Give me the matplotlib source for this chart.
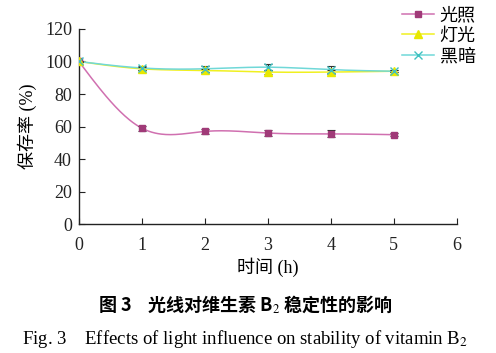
#!/usr/bin/env python3

import numpy as np
import matplotlib
matplotlib.use('Agg')
import matplotlib.pyplot as plt

hours = [0, 1, 2, 3, 4, 5]
light = [100, 59, 57, 56, 55.5, 55]
light_err = [0.5, 1.5, 1.8, 2, 2.2, 0.8]
lamp = [100, 95.5, 94.5, 93.5, 93.5, 94]
lamp_err = [0.5, 1, 1, 1, 1, 0.5]
dark = [100, 96, 95.5, 96.5, 95, 94]
dark_err = [0.5, 1.5, 1.8, 2, 2.2, 0.5]
names = ['光照', '灯光', '黑暗']

FONT = ['Liberation Serif', 'Noto Sans CJK SC']


def smooth(x, y, n=200):
    # natural cubic spline, only for drawing the curve between points
    x = np.asarray(x, float)
    y = np.asarray(y, float)
    k = len(x)
    h = np.diff(x)
    A = np.zeros((k, k))
    b = np.zeros(k)
    A[0, 0] = A[-1, -1] = 1
    for i in range(1, k - 1):
        A[i, i - 1] = h[i - 1]
        A[i, i] = 2 * (h[i - 1] + h[i])
        A[i, i + 1] = h[i]
        b[i] = 6 * ((y[i + 1] - y[i]) / h[i] - (y[i] - y[i - 1]) / h[i - 1])
    m = np.linalg.solve(A, b)
    xs = np.linspace(x[0], x[-1], n)
    idx = np.clip(np.searchsorted(x, xs) - 1, 0, k - 2)
    t = xs - x[idx]
    hi = h[idx]
    a = (m[idx + 1] - m[idx]) / (6 * hi)
    bb = m[idx] / 2
    c = (y[idx + 1] - y[idx]) / hi - hi * (2 * m[idx] + m[idx + 1]) / 6
    return xs, y[idx] + c * t + bb * t ** 2 + a * t ** 3


plt.rcParams['font.family'] = FONT
plt.rcParams['mathtext.fontset'] = 'stix'

fig = plt.figure(figsize=(4.96, 3.53), dpi=100)
ax = fig.add_axes([0.159, 0.365, 0.762, 0.553])

series = [
    (light, light_err, '#d070b0', '#a03a78', 's', 5),
    (lamp, lamp_err, '#f0f020', '#e8e800', '^', 6),
    (dark, dark_err, '#70d8d8', '#40c0c0', 'x', 6),
]
for (vals, err, lc, mc, mk, ms), name in zip(series, names):
    xs, ys = smooth(hours, vals)
    ax.plot(xs, ys, color=lc, lw=1.1, zorder=2)
    ax.errorbar(hours, vals, yerr=err, fmt='none', ecolor='#333333',
                elinewidth=0.8, capsize=3, capthick=0.8, zorder=3)
    ax.plot(hours, vals, linestyle='none', marker=mk, markersize=ms,
            color=mc, markeredgecolor=mc, zorder=4)
    # legend proxy
    ax.plot([], [], color=lc, lw=1.1, marker=mk, markersize=ms,
            markerfacecolor=mc, markeredgecolor=mc, label=name)

ax.set_xlim(0, 6)
ax.set_ylim(0, 120)
ax.set_xticks(range(0, 7))
ax.set_yticks(range(0, 121, 20))
ax.spines['top'].set_visible(False)
ax.spines['right'].set_visible(False)
for s in ('left', 'bottom'):
    ax.spines[s].set_linewidth(1.0)
    ax.spines[s].set_color('#222222')
ax.tick_params(direction='in', length=4, width=0.8, labelsize=13,
               colors='#222222')
ax.tick_params(axis='x', pad=9)
ax.tick_params(axis='y', pad=5)
ax.set_xlabel('时间 (h)', fontsize=13, labelpad=3)
ax.set_ylabel('保存率 (%)', fontsize=13, labelpad=6)

ax.legend(loc='upper left', bbox_to_anchor=(0.835, 1.15), frameon=False,
          fontsize=13, handlelength=1.8, handletextpad=0.3,
          labelspacing=0.2, borderaxespad=0)

fig.text(0.495, 0.138, '图 3    光线对维生素 B$_2$ 稳定性的影响',
         ha='center', va='center', fontsize=13, fontweight='bold',
         family=['Noto Sans CJK SC', 'Liberation Serif'])
fig.text(0.495, 0.04, 'Fig. 3    Effects of light influence on stability of vitamin B$_2$',
         ha='center', va='center', fontsize=13.5)

fig.savefig('out.png', dpi=100)
